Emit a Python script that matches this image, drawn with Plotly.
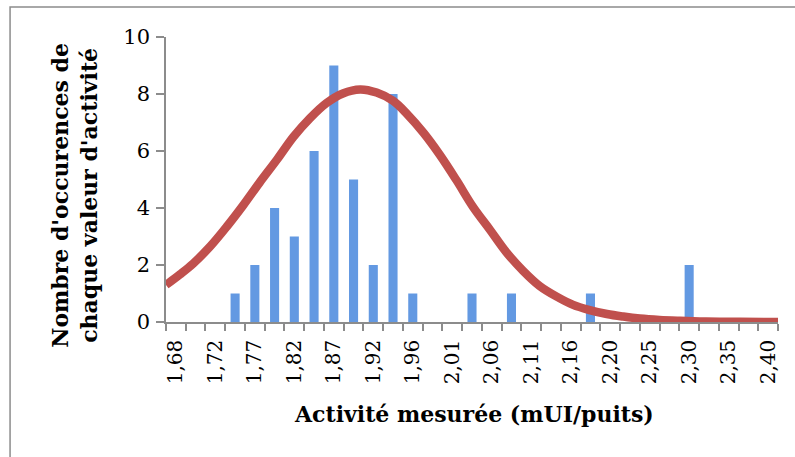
import plotly.graph_objects as go

# Bin centres (activity, mUI/puits) and counts per bin
bin_centers = [1.675, 1.699, 1.723, 1.747, 1.771, 1.795, 1.819, 1.843, 1.867, 1.891,
               1.915, 1.939, 1.963, 1.987, 2.011, 2.035, 2.059, 2.083, 2.107, 2.131,
               2.155, 2.179, 2.203, 2.227, 2.251, 2.275, 2.299, 2.323, 2.347, 2.371, 2.395]
counts = [0, 0, 0, 1, 2, 4, 3, 6, 9, 5,
          2, 8, 1, 0, 0, 1, 0, 1, 0, 0,
          0, 1, 0, 0, 0, 0, 2, 0, 0, 0, 0]

# Tick labels shown on every other bin
tick_positions = [1.675, 1.723, 1.771, 1.819, 1.867, 1.915, 1.963, 2.011,
                  2.059, 2.107, 2.155, 2.203, 2.251, 2.299, 2.347, 2.395]
tick_labels = ["1,68", "1,72", "1,77", "1,82", "1,87", "1,92", "1,96", "2,01",
               "2,06", "2,11", "2,16", "2,20", "2,25", "2,30", "2,35", "2,40"]

# Fitted normal curve
curve_x = [1.663, 1.680, 1.696, 1.717, 1.737, 1.757, 1.777, 1.798, 1.818, 1.838,
           1.858, 1.878, 1.899, 1.919, 1.939, 1.956, 1.976, 1.996, 2.016, 2.036,
           2.057, 2.077, 2.097, 2.117, 2.138, 2.158, 2.178, 2.199, 2.219, 2.239,
           2.263, 2.288, 2.312, 2.336, 2.361, 2.407]
curve_y = [1.30, 1.67, 2.05, 2.66, 3.35, 4.10, 4.90, 5.70, 6.50, 7.15,
           7.68, 8.02, 8.16, 8.05, 7.76, 7.30, 6.64, 5.86, 4.98, 4.05,
           3.23, 2.44, 1.80, 1.27, 0.89, 0.60, 0.42, 0.28, 0.19, 0.12,
           0.07, 0.04, 0.02, 0.01, 0.005, 0.0]

x_range = [1.663, 2.407]
bin_width = 0.024

serif = "DejaVu Serif"
axis_grey = "#8c8c8c"

fig = go.Figure()
fig.add_trace(go.Bar(
    x=bin_centers, y=counts, width=bin_width * 0.46,
    marker=dict(color="#6399E2", line=dict(width=0)),
    showlegend=False,
))
fig.add_trace(go.Scatter(
    x=curve_x, y=curve_y, mode="lines",
    line=dict(color="#C0504D", width=8.5, shape="spline", smoothing=1.0),
    showlegend=False,
))

fig.update_layout(
    width=795, height=457,
    margin=dict(l=166, r=17, t=37, b=135),
    paper_bgcolor="white", plot_bgcolor="white",
    font=dict(family=serif, color="black"),
    xaxis=dict(
        range=x_range, tickmode="array", tickvals=tick_positions, ticktext=tick_labels,
        tickangle=-90, ticks="", showgrid=False, zeroline=False, automargin=False,
        showline=True, linecolor=axis_grey, linewidth=1.5,
        tickfont=dict(family=serif, size=20, color="black"),
        minor=dict(tickmode="linear", tick0=x_range[0], dtick=bin_width,
                   ticks="outside", ticklen=7, tickcolor=axis_grey, tickwidth=1.5,
                   showgrid=False),
        ticklabelstandoff=8,
    ),
    yaxis=dict(
        range=[0, 10], dtick=2, ticks="outside", ticklen=8, tickcolor=axis_grey, tickwidth=1.5,
        showgrid=False, zeroline=False, showline=True, linecolor=axis_grey, linewidth=1.5,
        automargin=False,
        tickfont=dict(family=serif, size=21, color="black"),
        ticklabelstandoff=2,
    ),
    annotations=[
        dict(text="<b>Activité mesurée (mUI/puits)</b>", xref="paper", yref="paper",
             x=0.503, y=-0.323, showarrow=False, xanchor="center", yanchor="middle",
             font=dict(family=serif, size=22, color="black")),
        dict(text="<b>Nombre d'occurences de<br>chaque valeur d'activité</b>",
             xref="paper", yref="paper", x=-0.149, y=0.446, textangle=-90,
             showarrow=False, xanchor="center", yanchor="middle",
             font=dict(family=serif, size=22, color="black")),
    ],
    shapes=[
        dict(type="rect", xref="paper", yref="paper", x0=-0.2548, y0=-0.5, x1=1.04, y1=1.105,
             line=dict(color="#8c8c8c", width=1.5), fillcolor="rgba(0,0,0,0)", layer="below"),
    ],
)

fig.write_html("out.html", config={"displayModeBar": False},
               post_script="document.body.style.margin='0px';")
